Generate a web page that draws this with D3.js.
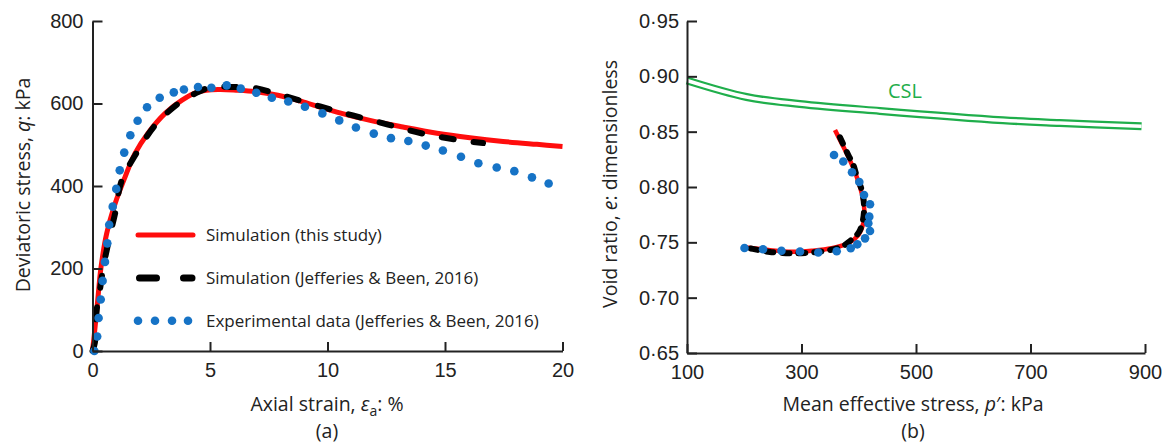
<!DOCTYPE html>
<html>
<head>
<meta charset="utf-8">
<script src="https://cdn.jsdelivr.net/npm/d3@7"></script>
<style>
  body { margin: 0; background: #fff; }
  svg { font-family: "Open Sans", "Noto Sans", sans-serif; }
</style>
</head>
<body>
<div id="chart"></div>
<script>
// ---- data ----

// (a) axial strain (%) vs deviatoric stress q (kPa)
var simStrain = [0, 0.08, 0.22, 0.36, 0.6, 0.96, 1.38, 1.81, 2.36, 3.09, 3.81, 4.49, 5.34, 6.19, 7.04, 7.89, 8.96, 10.4, 11.81, 13.21, 14.66, 16.06, 17.47, 18.91, 20];
var simQ      = [0, 41, 122, 202, 284, 357, 421, 479, 528, 576, 608, 628, 634, 632, 628, 620, 604, 579, 559, 543, 528, 517, 508, 501, 496];

var jbStrain = [0, 0.1, 0.18, 0.32, 0.46, 0.6, 0.79, 0.96, 1.24, 1.81, 2.66, 3.65, 4.36, 5.07, 5.92, 6.77, 8.05, 9.68, 11.08, 12.57, 14.06, 15.64, 16.62];
var jbQ      = [0, 20, 100, 150, 203, 243, 292, 333, 413, 474, 547, 600, 624, 640, 640, 639, 620, 593, 571, 549, 527, 511, 504];

var expStrain = [0.08, 0.2, 0.26, 0.35, 0.43, 0.53, 0.63, 0.71, 0.86, 1.01, 1.16, 1.35, 1.61, 1.92, 2.32, 2.86, 3.46, 3.89, 4.49, 5.06, 5.71, 6.31, 6.97, 7.63, 8.33, 9.04, 9.78, 10.5, 11.21, 11.97, 12.7, 13.44, 14.18, 14.91, 15.68, 16.42, 17.2, 17.95, 18.7, 19.41];
var expQ      = [0, 35, 80, 125, 170, 216, 261, 306, 350, 393, 438, 481, 523, 558, 591, 614, 627, 634, 640, 638, 644, 636, 626, 614, 605, 592, 576, 559, 542, 527, 516, 509, 498, 486, 471, 455, 445, 436, 421, 406];

var legendLabels = ["Simulation (this study)", "Simulation (Jefferies & Been, 2016)", "Experimental data (Jefferies & Been, 2016)"];

// (b) mean effective stress p' (kPa) vs void ratio e
var cslP = [100, 204, 297, 437, 652, 751, 894];
var cslE = [0.8962, 0.8813, 0.875, 0.8687, 0.8603, 0.8578, 0.8548];

var simP = [358.5, 367.2, 381.7, 396.4, 405.2, 409.7, 408, 399.2, 381.7, 352.8, 317.8, 282.9, 242, 201.3];
var simE = [0.8515, 0.8425, 0.8274, 0.8093, 0.7943, 0.7792, 0.7672, 0.7566, 0.7491, 0.7446, 0.7424, 0.7415, 0.7431, 0.7455];

var jbP = [367.2, 381.7, 390.5, 397, 405.2, 409.2, 407.4, 400.4, 384.7, 370.2, 341, 306, 282.9, 245, 224.5, 201.3];
var jbE = [0.8449, 0.8289, 0.8199, 0.809, 0.7973, 0.7837, 0.7702, 0.7593, 0.7512, 0.746, 0.7422, 0.7404, 0.7401, 0.7413, 0.7431, 0.7455];

var expP = [356.8, 373, 388.2, 401, 409.2, 419.7, 418.4, 416.7, 419.7, 411, 397.5, 386, 361.5, 329.3, 297.4, 265, 232.8, 200.4];
var expE = [0.8289, 0.823, 0.8133, 0.8045, 0.7928, 0.7844, 0.7732, 0.7672, 0.7602, 0.7536, 0.7482, 0.7446, 0.7419, 0.7408, 0.7417, 0.7424, 0.7437, 0.7449];

var strainTicks = [0, 5, 10, 15, 20];
var qTicks = [0, 200, 400, 600, 800];
var pTicks = [100, 300, 500, 700, 900];
var eTicks = [0.65, 0.70, 0.75, 0.80, 0.85, 0.90, 0.95];

// ---- drawing ----
var RED = "#ff0d0d", BLUE = "#1673c6", BLACK = "#000", GREEN = "#1fae4b", AXIS = "#222";

var svg = d3.select("#chart").append("svg")
    .attr("width", 1164)
    .attr("height", 445);

function zip(a, b) { return a.map(function(v, i) { return [v, b[i]]; }); }

function styleAxis(g) {
  g.select(".domain").attr("stroke", AXIS).attr("stroke-width", 2);
  g.selectAll(".tick line").attr("stroke", AXIS).attr("stroke-width", 2);
  g.selectAll(".tick text").attr("fill", AXIS).style("font-size", "20px");
}

// ===== (a) =====
var x1 = d3.scaleLinear().domain([0, 20]).range([92.5, 562.5]);
var y1 = d3.scaleLinear().domain([0, 800]).range([351, 21]);

var line1 = d3.line()
    .x(function(d) { return x1(d[0]); })
    .y(function(d) { return y1(d[1]); })
    .curve(d3.curveCatmullRom);

svg.append("path")
    .datum(zip(simStrain, simQ))
    .attr("d", line1)
    .attr("fill", "none")
    .attr("stroke", RED)
    .attr("stroke-width", 5);

svg.append("path")
    .datum(zip(jbStrain, jbQ))
    .attr("d", line1)
    .attr("fill", "none")
    .attr("stroke", BLACK)
    .attr("stroke-width", 6)
    .attr("stroke-linecap", "round")
    .attr("stroke-dasharray", "12,20");

svg.append("g").selectAll("circle")
    .data(zip(expStrain, expQ))
  .enter().append("circle")
    .attr("cx", function(d) { return x1(d[0]); })
    .attr("cy", function(d) { return y1(d[1]); })
    .attr("r", 4.3)
    .attr("fill", BLUE);

svg.append("g")
    .attr("transform", "translate(0," + y1(0) + ")")
    .call(d3.axisBottom(x1).tickValues(strainTicks).tickSizeInner(-9).tickSizeOuter(0).tickPadding(12))
    .call(styleAxis);

svg.append("g")
    .attr("transform", "translate(" + x1(0) + ",0)")
    .call(d3.axisLeft(y1).tickValues(qTicks).tickSizeInner(-10).tickSizeOuter(0).tickPadding(9))
    .call(styleAxis);

// legend
var lg = svg.append("g");
lg.append("path").attr("d", "M138,235H193")
    .attr("stroke", RED).attr("stroke-width", 5).attr("stroke-linecap", "round");
lg.append("path").attr("d", "M139.5,278H192")
    .attr("stroke", BLACK).attr("stroke-width", 7).attr("stroke-linecap", "round")
    .attr("stroke-dasharray", "17,27");
lg.selectAll("circle").data([138, 155, 172, 188]).enter().append("circle")
    .attr("cx", function(d) { return d; }).attr("cy", 320.7).attr("r", 4.3).attr("fill", BLUE);
lg.selectAll("text").data(legendLabels).enter().append("text")
    .attr("x", 206)
    .attr("y", function(d, i) { return [235, 278, 320.7][i]; })
    .attr("dy", "0.35em")
    .attr("fill", AXIS)
    .style("font-size", "17px")
    .text(function(d) { return d; });

// titles
var t = svg.append("text").attr("x", 327).attr("y", 411).attr("text-anchor", "middle")
    .attr("fill", AXIS).style("font-size", "19.5px");
t.append("tspan").text("Axial strain, ");
t.append("tspan").style("font-style", "italic").text("ε");
t.append("tspan").attr("dy", 5).style("font-size", "14px").text("a");
t.append("tspan").attr("dy", -5).text(": %");

svg.append("text").attr("x", 327).attr("y", 438).attr("text-anchor", "middle")
    .attr("fill", AXIS).style("font-size", "19.5px").text("(a)");

t = svg.append("text").attr("transform", "translate(30,185) rotate(-90)").attr("text-anchor", "middle")
    .attr("fill", AXIS).style("font-size", "19.5px");
t.append("tspan").text("Deviatoric stress, ");
t.append("tspan").style("font-style", "italic").text("q");
t.append("tspan").text(": kPa");

// ===== (b) =====
var x2 = d3.scaleLinear().domain([100, 900]).range([687, 1145]);
var y2 = d3.scaleLinear().domain([0.65, 0.95]).range([353, 21]);

var line2 = d3.line()
    .x(function(d) { return x2(d[0]); })
    .y(function(d) { return y2(d[1]); })
    .curve(d3.curveCatmullRom);

// CSL drawn as a green band with a white core -> double line
svg.append("path")
    .datum(zip(cslP, cslE))
    .attr("d", line2)
    .attr("fill", "none")
    .attr("stroke", GREEN)
    .attr("stroke-width", 8);
svg.append("path")
    .datum(zip(cslP, cslE))
    .attr("d", line2)
    .attr("fill", "none")
    .attr("stroke", "#fff")
    .attr("stroke-width", 3.5);

svg.append("text").attr("x", 888).attr("y", 98).attr("fill", GREEN)
    .style("font-size", "20px").text("CSL");

svg.append("path")
    .datum(zip(simP, simE))
    .attr("d", line2)
    .attr("fill", "none")
    .attr("stroke", RED)
    .attr("stroke-width", 4.5);

svg.append("path")
    .datum(zip(jbP, jbE))
    .attr("d", line2)
    .attr("fill", "none")
    .attr("stroke", BLACK)
    .attr("stroke-width", 6)
    .attr("stroke-linecap", "round")
    .attr("stroke-dasharray", "7,9");

svg.append("g").selectAll("circle")
    .data(zip(expP, expE))
  .enter().append("circle")
    .attr("cx", function(d) { return x2(d[0]); })
    .attr("cy", function(d) { return y2(d[1]); })
    .attr("r", 4.3)
    .attr("fill", BLUE);

svg.append("g")
    .attr("transform", "translate(0," + y2(0.65) + ")")
    .call(d3.axisBottom(x2).tickValues(pTicks).tickSizeInner(-9).tickSizeOuter(0).tickPadding(12))
    .call(styleAxis);

svg.append("g")
    .attr("transform", "translate(" + x2(100) + ",0)")
    .call(d3.axisLeft(y2).tickValues(eTicks).tickSizeInner(-10).tickSizeOuter(0).tickPadding(8)
      .tickFormat(function(d) { return d3.format(".2f")(d).replace(".", "·"); }))
    .call(styleAxis);

t = svg.append("text").attr("x", 913).attr("y", 411).attr("text-anchor", "middle")
    .attr("fill", AXIS).style("font-size", "19.5px");
t.append("tspan").text("Mean effective stress, ");
t.append("tspan").style("font-style", "italic").text("p");
t.append("tspan").text("′: kPa");

svg.append("text").attr("x", 913).attr("y", 438).attr("text-anchor", "middle")
    .attr("fill", AXIS).style("font-size", "19.5px").text("(b)");

t = svg.append("text").attr("transform", "translate(617,184) rotate(-90)").attr("text-anchor", "middle")
    .attr("fill", AXIS).style("font-size", "19.5px");
t.append("tspan").text("Void ratio, ");
t.append("tspan").style("font-style", "italic").text("e");
t.append("tspan").text(": dimensionless");
</script>
</body>
</html>
